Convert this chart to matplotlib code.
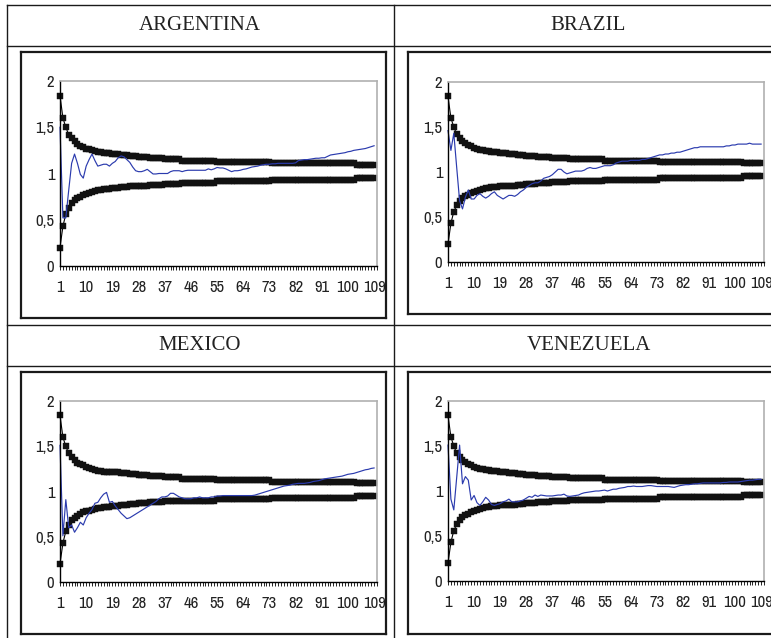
import numpy as np
import matplotlib
matplotlib.use('Agg')
import matplotlib.pyplot as plt
from matplotlib import font_manager
from matplotlib.lines import Line2D

# confidence bands (same in every panel), read as plateaus off the picture
upper_head = [1.84, 1.60, 1.50, 1.42, 1.38, 1.35, 1.32, 1.30, 1.29, 1.27, 1.26, 1.25, 1.24]
upper_steps = [1.23, 1.22, 1.21, 1.20, 1.19, 1.18, 1.17, 1.16, 1.14, 1.125, 1.11, 1.095]
lower_head = [0.20, 0.43, 0.56, 0.63, 0.68, 0.71, 0.73, 0.75, 0.77, 0.78, 0.79, 0.80, 0.81]
lower_steps = [0.82, 0.83, 0.84, 0.85, 0.86, 0.87, 0.88, 0.89, 0.90, 0.915, 0.933, 0.952]
step_runs = [2, 3, 3, 3, 3, 4, 5, 6, 12, 19, 29, 7]

argentina = [
    1.50, 0.52, 0.52, 0.82, 1.11, 1.21, 1.11, 0.99, 0.95, 1.08,
    1.15, 1.21, 1.14, 1.08, 1.09, 1.10, 1.10, 1.08, 1.11, 1.13,
    1.17, 1.19, 1.18, 1.15, 1.12, 1.07, 1.03, 1.02, 1.02, 1.03,
    1.045, 1.02, 0.995, 0.995, 1.00, 1.00, 1.00, 1.00, 1.02, 1.03,
    1.03, 1.03, 1.02, 1.03, 1.035, 1.035, 1.035, 1.035, 1.035, 1.035,
    1.035, 1.05, 1.04, 1.05, 1.065, 1.06, 1.06, 1.05, 1.035, 1.02,
    1.03, 1.03, 1.035, 1.045, 1.05, 1.06, 1.07, 1.075, 1.08, 1.09,
    1.095, 1.10, 1.10, 1.105, 1.105, 1.11, 1.11, 1.11, 1.11, 1.11,
    1.11, 1.115, 1.14, 1.145, 1.15, 1.15, 1.155, 1.16, 1.165, 1.165,
    1.17, 1.17, 1.185, 1.20, 1.205, 1.21, 1.215, 1.22, 1.225, 1.235,
    1.24, 1.25, 1.255, 1.26, 1.265, 1.27, 1.28, 1.29, 1.30]

brazil = [
    1.46, 1.24, 1.43, 1.05, 0.68, 0.59, 0.72, 0.80, 0.70, 0.70,
    0.74, 0.76, 0.73, 0.71, 0.73, 0.76, 0.78, 0.74, 0.72, 0.70,
    0.72, 0.74, 0.74, 0.73, 0.75, 0.78, 0.80, 0.83, 0.85, 0.87,
    0.88, 0.88, 0.90, 0.93, 0.94, 0.95, 0.97, 1.00, 1.03, 1.03,
    1.00, 0.98, 0.99, 1.00, 1.01, 1.01, 1.01, 1.02, 1.04, 1.05,
    1.04, 1.04, 1.05, 1.06, 1.07, 1.07, 1.07, 1.08, 1.10, 1.11,
    1.12, 1.12, 1.12, 1.13, 1.13, 1.13, 1.13, 1.14, 1.14, 1.15,
    1.16, 1.17, 1.18, 1.19, 1.19, 1.20, 1.20, 1.21, 1.21, 1.22,
    1.22, 1.23, 1.24, 1.25, 1.26, 1.27, 1.27, 1.28, 1.28, 1.28,
    1.28, 1.28, 1.28, 1.28, 1.28, 1.28, 1.29, 1.29, 1.30, 1.30,
    1.31, 1.31, 1.31, 1.31, 1.32, 1.31, 1.31, 1.31, 1.31]

mexico = [
    1.51, 0.51, 0.91, 0.60, 0.63, 0.55, 0.60, 0.66, 0.63, 0.71,
    0.76, 0.80, 0.87, 0.88, 0.93, 0.97, 0.99, 0.88, 0.89, 0.84,
    0.80, 0.76, 0.73, 0.70, 0.71, 0.73, 0.75, 0.77, 0.79, 0.81,
    0.83, 0.85, 0.87, 0.89, 0.92, 0.94, 0.94, 0.95, 0.98, 0.98,
    0.96, 0.94, 0.93, 0.92, 0.92, 0.92, 0.93, 0.93, 0.94, 0.93,
    0.93, 0.93, 0.94, 0.94, 0.95, 0.95, 0.955, 0.955, 0.955, 0.955,
    0.955, 0.955, 0.955, 0.955, 0.955, 0.955, 0.955, 0.96, 0.97, 0.98,
    0.99, 1.00, 1.01, 1.02, 1.03, 1.04, 1.05, 1.06, 1.065, 1.07,
    1.08, 1.085, 1.09, 1.09, 1.09, 1.095, 1.10, 1.11, 1.115, 1.12,
    1.13, 1.14, 1.145, 1.15, 1.155, 1.16, 1.165, 1.17, 1.18, 1.19,
    1.195, 1.20, 1.21, 1.22, 1.23, 1.24, 1.245, 1.255, 1.26]

venezuela = [
    1.51, 0.91, 0.79, 1.15, 1.51, 1.08, 1.16, 1.12, 0.90, 0.95,
    0.87, 0.84, 0.88, 0.93, 0.90, 0.85, 0.84, 0.85, 0.86, 0.88,
    0.89, 0.91, 0.88, 0.88, 0.88, 0.89, 0.90, 0.92, 0.94, 0.93,
    0.955, 0.94, 0.955, 0.95, 0.945, 0.945, 0.945, 0.95, 0.955, 0.955,
    0.965, 0.945, 0.94, 0.945, 0.95, 0.955, 0.97, 0.98, 0.985, 0.99,
    0.995, 1.00, 1.00, 1.005, 1.01, 1.00, 1.01, 1.02, 1.02, 1.03,
    1.035, 1.04, 1.05, 1.05, 1.055, 1.05, 1.05, 1.05, 1.055, 1.06,
    1.06, 1.055, 1.05, 1.05, 1.05, 1.05, 1.05, 1.045, 1.04, 1.05,
    1.06, 1.065, 1.07, 1.07, 1.075, 1.08, 1.08, 1.085, 1.09, 1.09,
    1.09, 1.09, 1.09, 1.09, 1.09, 1.095, 1.095, 1.10, 1.10, 1.10,
    1.10, 1.105, 1.11, 1.115, 1.12, 1.12, 1.125, 1.13, 1.13]

countries = ['ARGENTINA', 'BRAZIL', 'MEXICO', 'VENEZUELA']
n_categories = 110
xtick_labels = [str(v) for v in range(1, 110, 9)]
ytick_values = [0, 0.5, 1, 1.5, 2]
ytick_labels = ['0', '0,5', '1', '1,5', '2']

upper = upper_head + list(np.repeat(upper_steps, step_runs))
lower = lower_head + list(np.repeat(lower_steps, step_runs))

W, H = 771, 638
def fx(x): return x / W
def fy(y): return 1 - y / H

# narrow sans for the Excel tick labels, whichever is installed
names = {f.name for f in font_manager.fontManager.ttflist}
numfont = 'Liberation Sans'
for cand in ['Liberation Sans Narrow', 'Arial Narrow', 'Archivo Narrow', 'PT Sans Narrow',
             'Roboto Condensed', 'Pragati Narrow', 'Encode Sans Condensed', 'Sofia Sans Condensed']:
    if cand in names:
        numfont = cand
        break

fig = plt.figure(figsize=(W / 100, H / 100), dpi=100)

# table grid
for y in [5, 46, 325, 366]:
    fig.add_artist(Line2D([fx(7), fx(W)], [fy(y), fy(y)], color='#1a1a1a', lw=1.0))
for x in [7, 394]:
    fig.add_artist(Line2D([fx(x), fx(x)], [fy(5), fy(H)], color='#1a1a1a', lw=1.0))

# pixel layouts: plot area (l, r, t, b), chart box (l, r, t, b), title centre
layout = {
    'ARGENTINA': ((60, 377, 81, 266), (21, 386, 52, 318), (200, 26)),
    'BRAZIL': ((448, 764, 82, 262), (408, 820, 52, 314), (588, 26)),
    'MEXICO': ((60, 377, 401, 582), (21, 386, 372, 634), (200, 345)),
    'VENEZUELA': ((448, 764, 401, 581), (408, 820, 372, 634), (589, 345)),
}
data = {'ARGENTINA': argentina, 'BRAZIL': brazil, 'MEXICO': mexico, 'VENEZUELA': venezuela}

for c in countries:
    (l, r, t, b), (bl, br, bt, bb), (tx, ty) = layout[c]
    fig.text(fx(tx), fy(ty), c, ha='center', va='center', fontsize=15,
             family='Liberation Serif', color='#222222')
    # chart box border
    for xs, ys in [((bl, br), (bt, bt)), ((bl, br), (bb, bb)), ((bl, bl), (bt, bb)), ((br, br), (bt, bb))]:
        fig.add_artist(Line2D([fx(xs[0]), fx(xs[1])], [fy(ys[0]), fy(ys[1])],
                              color='#1a1a1a', lw=1.6, solid_capstyle='projecting'))

    ax = fig.add_axes([fx(l), fy(b), (r - l) / W, (b - t) / H])
    xb = np.arange(1, len(upper) + 1)
    ax.plot(xb, upper, color='black', lw=0.8, marker='s', ms=4.6, mfc='#111111', mec='#111111', mew=0.3)
    ax.plot(xb, lower, color='black', lw=0.8, marker='s', ms=4.6, mfc='#111111', mec='#111111', mew=0.3)
    ys = data[c]
    ax.plot(np.arange(1, len(ys) + 1), ys, color='#2b3bae', lw=0.85)

    ax.set_xlim(1, n_categories)
    ax.set_ylim(0, 2)
    ax.set_xticks(range(1, 110, 9))
    ax.set_xticklabels(xtick_labels)
    ax.set_xticks(np.arange(1, n_categories + 1), minor=True)
    ax.set_yticks(ytick_values)
    ax.set_yticklabels(ytick_labels)
    ax.tick_params(axis='x', which='both', length=3, width=0.6, color='black', direction='out')
    ax.tick_params(axis='x', which='major', pad=7, labelsize=12)
    ax.tick_params(axis='y', length=0, pad=4, labelsize=12)
    for lab in ax.get_xticklabels() + ax.get_yticklabels():
        lab.set_family(numfont)
        lab.set_color('#222222')
    ax.spines['left'].set_color('black')
    ax.spines['bottom'].set_color('black')
    ax.spines['left'].set_linewidth(1.0)
    ax.spines['bottom'].set_linewidth(1.0)
    ax.spines['top'].set_color('#b0b0b0')
    ax.spines['right'].set_color('#b0b0b0')
    ax.spines['top'].set_linewidth(1.2)
    ax.spines['right'].set_linewidth(1.2)
    for ln in ax.lines:
        ln.set_clip_on(False)

fig.savefig('out.png', dpi=100)
